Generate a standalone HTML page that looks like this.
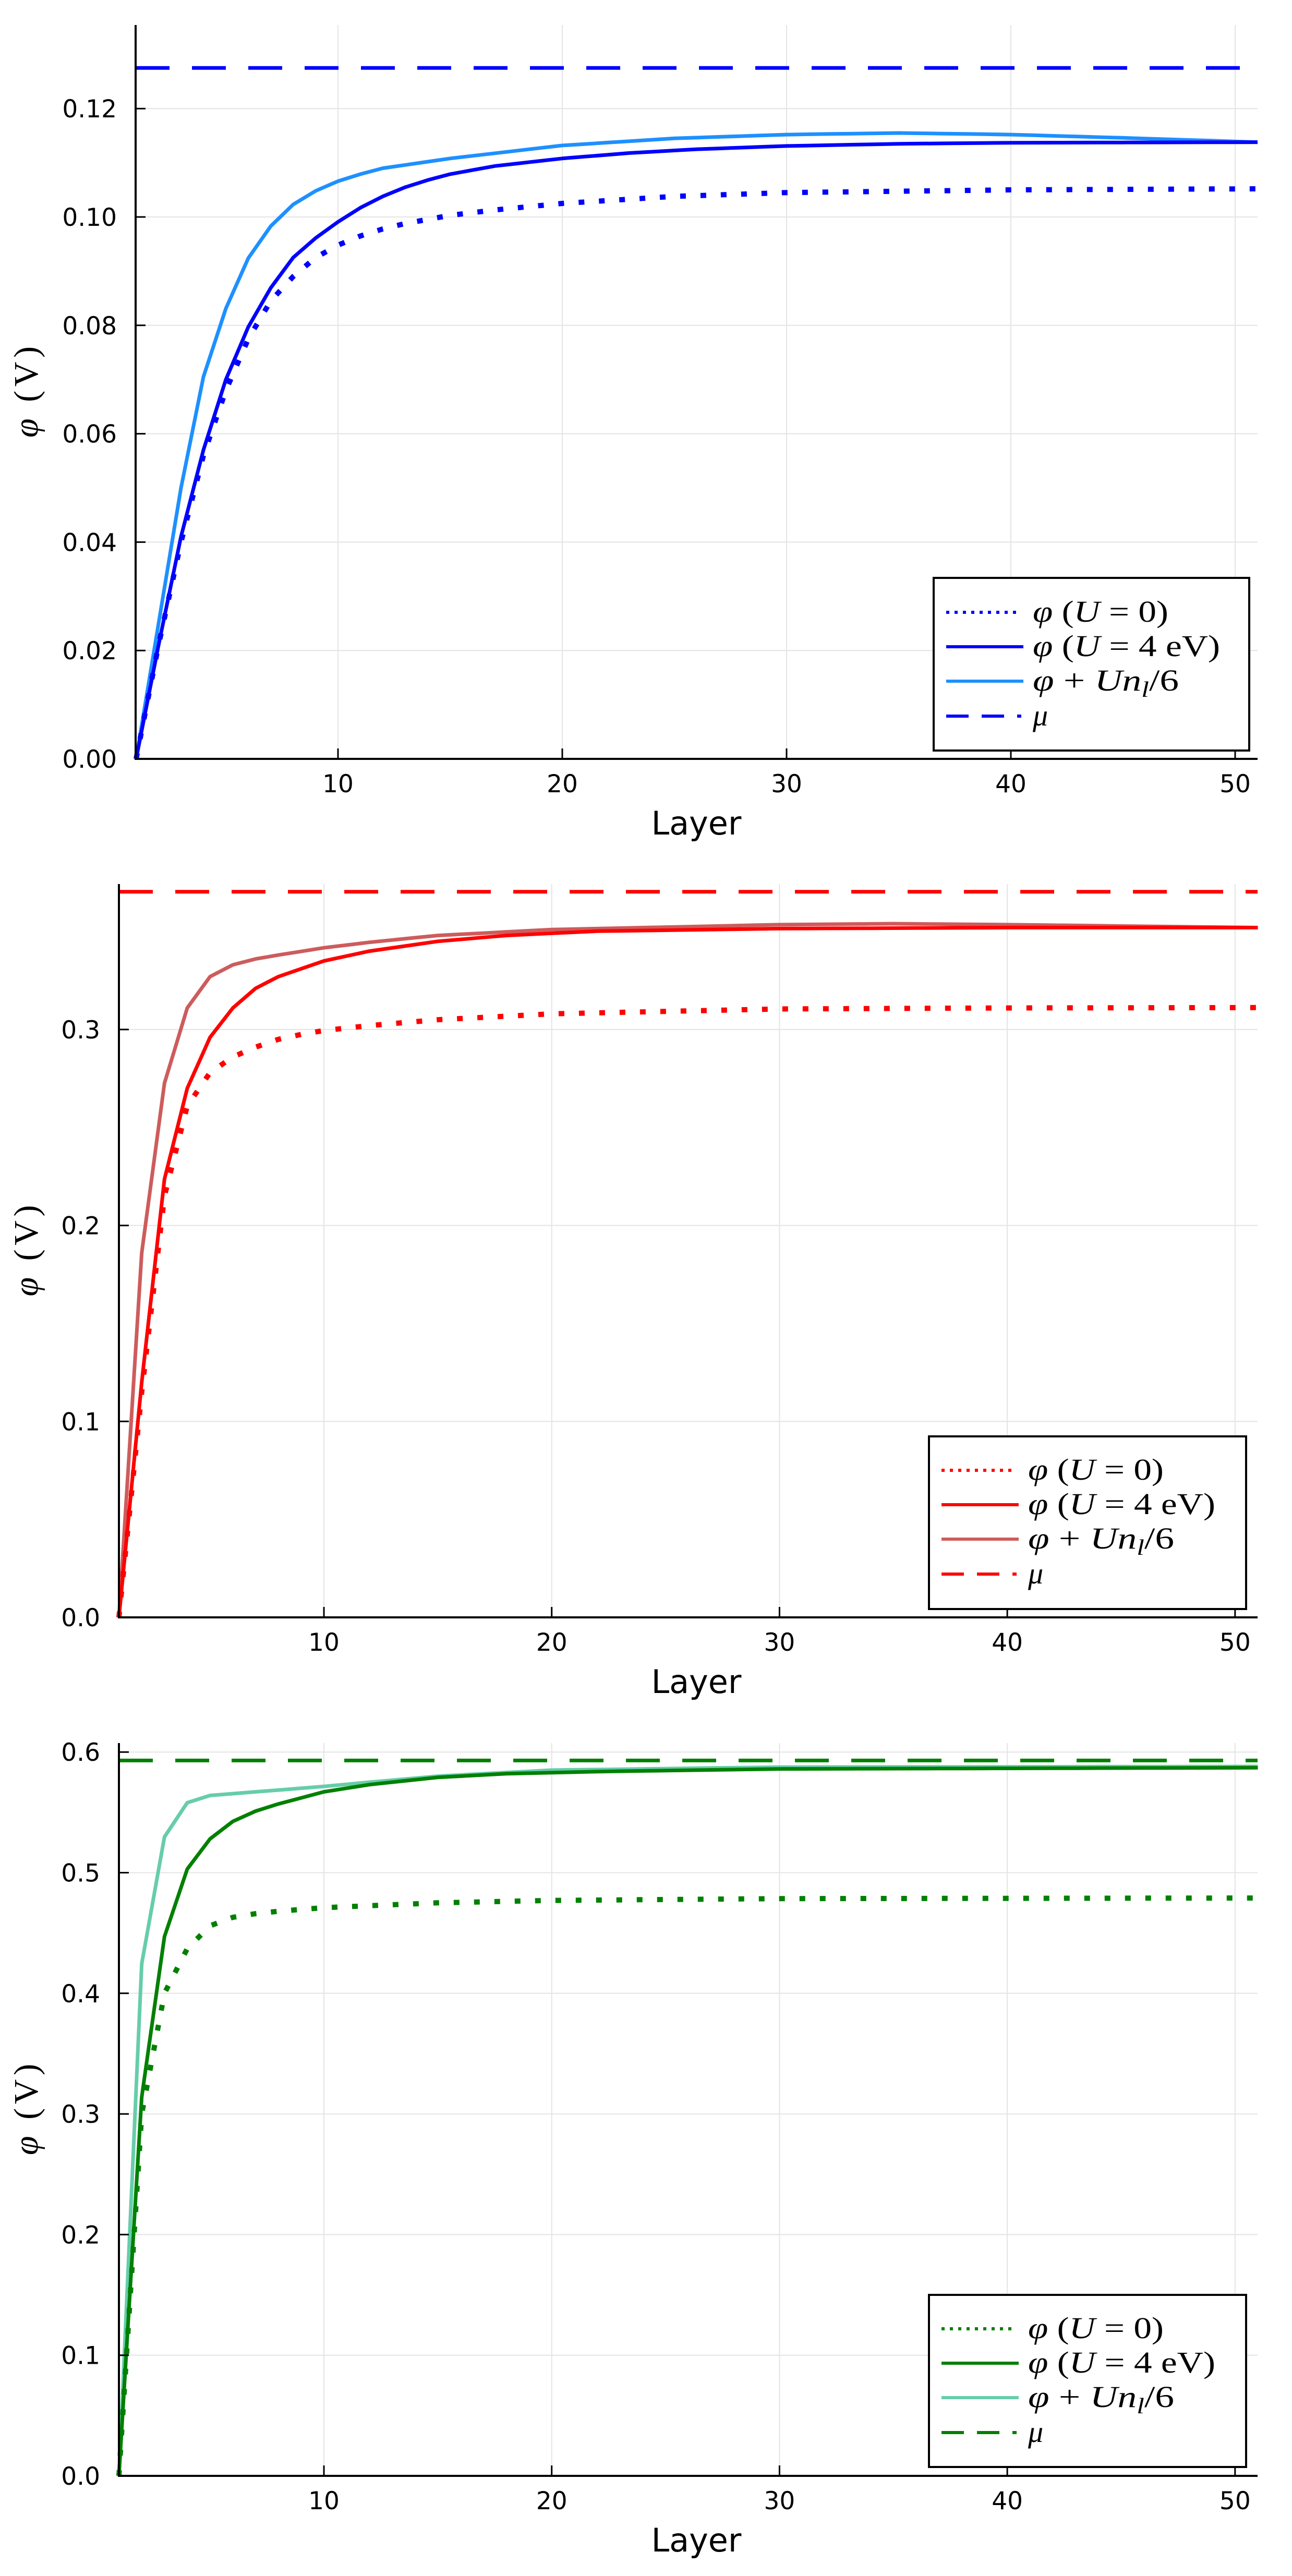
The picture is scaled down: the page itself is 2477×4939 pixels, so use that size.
<!DOCTYPE html>
<html><head><meta charset="utf-8"><style>
html,body{margin:0;padding:0;background:#fff;}
svg{display:block;}
</style></head><body>
<svg id="s" xmlns="http://www.w3.org/2000/svg" width="2477" height="4939" viewBox="0 0 2477 4939"></svg>
<script>
const S=document.getElementById('s');
let h='<rect width="2477" height="4939" fill="#fff"/>';
function interp(a,L){for(let i=0;i<a.length-1;i++){if(L>=a[i][0]&&L<=a[i+1][0]){const t=(L-a[i][0])/(a[i+1][0]-a[i][0]);return a[i][1]+t*(a[i+1][1]-a[i][1]);}}return a[a.length-1][1];}
function panel(c){
  const X=L=>c.l1+(L-1)*c.dx, Y=v=>c.yb-(v-c.ymin)/c.step*c.spx;
  const xr=2411;
  for(const L of [10,20,30,40,50]) h+=`<line x1="${X(L)}" y1="${c.yt}" x2="${X(L)}" y2="${c.yb}" stroke="#e4e4e4" stroke-width="2"/>`;
  c.ticks.forEach(t=>{const y=Y(t);h+=`<line x1="${c.ax}" y1="${y}" x2="${xr}" y2="${y}" stroke="#e4e4e4" stroke-width="2"/>`;});
  const pts=a=>{let p=[];for(let L=1;L<=51;L++)p.push(X(L).toFixed(1)+','+Y(interp(a,L)).toFixed(1));return p.join(' ');};
  h+=`<polyline points="${pts(c.lt)}" fill="none" stroke="${c.c2}" stroke-width="7" stroke-linejoin="round"/>`;
  h+=`<polyline points="${pts(c.u4)}" fill="none" stroke="${c.c1}" stroke-width="7" stroke-linejoin="round"/>`;
  h+=`<polyline points="${pts(c.d0)}" fill="none" stroke="${c.c1}" stroke-width="10" stroke-dasharray="11 28"/>`;
  h+=`<line x1="${c.ax}" y1="${Y(c.mu)}" x2="${xr}" y2="${Y(c.mu)}" stroke="${c.c1}" stroke-width="7" stroke-dasharray="65 43"/>`;
  h+=`<line x1="${c.ax}" y1="${c.yt}" x2="${c.ax}" y2="${c.yb+2}" stroke="#000" stroke-width="4"/>`;
  h+=`<line x1="${c.ax-2}" y1="${c.yb}" x2="${xr}" y2="${c.yb}" stroke="#000" stroke-width="4"/>`;
  c.ticks.forEach((t,i)=>{const y=Y(t);h+=`<line x1="${c.ax}" y1="${y}" x2="${c.ax+19}" y2="${y}" stroke="#000" stroke-width="3"/>`;
    h+=`<text x="${c.ax-36}" y="${y+17}" text-anchor="end" font-family="DejaVu Sans, sans-serif" font-size="47">${c.labels[i]}</text>`;});
  for(const L of [10,20,30,40,50]){h+=`<line x1="${X(L)}" y1="${c.yb}" x2="${X(L)}" y2="${c.yb-20}" stroke="#000" stroke-width="3"/>`;
    h+=`<text x="${X(L)}" y="${c.yb+64}" text-anchor="middle" font-family="DejaVu Sans, sans-serif" font-size="47">${L}</text>`;}
  h+=`<text x="1335" y="${c.yb+145}" text-anchor="middle" font-family="DejaVu Sans, sans-serif" font-size="62">Layer</text>`;
  const cy=(c.yt+c.yb)/2;
  h+=`<text transform="translate(72 ${cy}) rotate(-90)" text-anchor="middle" font-family="Liberation Serif, DejaVu Serif, serif" font-size="66" textLength="175" lengthAdjust="spacing"><tspan font-style="italic">φ</tspan> (V)</text>`;
  const g=c.leg;
  h+=`<rect x="${g.x1}" y="${g.y1}" width="${g.x2-g.x1}" height="${g.y2-g.y1}" fill="#fff" stroke="#000" stroke-width="4"/>`;
  const sx1=g.x1+24, sx2=g.x1+168, tx=g.x1+190;
  const F='font-family="Liberation Serif, DejaVu Serif, serif" font-size="58"';
  g.ys.forEach((y,i)=>{
    if(i==0) h+=`<line x1="${sx1}" y1="${y}" x2="${sx2}" y2="${y}" stroke="${c.c1}" stroke-width="6" stroke-dasharray="6 10"/>`;
    if(i==1) h+=`<line x1="${sx1}" y1="${y}" x2="${sx2+4}" y2="${y}" stroke="${c.c1}" stroke-width="6"/>`;
    if(i==2) h+=`<line x1="${sx1}" y1="${y}" x2="${sx2+4}" y2="${y}" stroke="${c.c2}" stroke-width="6"/>`;
    if(i==3) h+=`<line x1="${sx1}" y1="${y}" x2="${sx2}" y2="${y}" stroke="${c.c1}" stroke-width="6" stroke-dasharray="43 25"/>`;
  });
  const b=18;
  h+=`<text x="${tx}" y="${g.ys[0]+b}" ${F} textLength="260" lengthAdjust="spacingAndGlyphs"><tspan font-style="italic">φ</tspan>  (<tspan font-style="italic">U</tspan> = 0)</text>`;
  h+=`<text x="${tx}" y="${g.ys[1]+b}" ${F} textLength="359" lengthAdjust="spacingAndGlyphs"><tspan font-style="italic">φ</tspan>  (<tspan font-style="italic">U</tspan> = 4 eV)</text>`;
  h+=`<text x="${tx}" y="${g.ys[2]+b}" ${F} font-size="62" textLength="280" lengthAdjust="spacingAndGlyphs"><tspan font-style="italic">φ</tspan> + <tspan font-style="italic">Un</tspan><tspan font-style="italic" font-size="42" dy="12">l</tspan><tspan dy="-12">/6</tspan></text>`;
  h+=`<text x="${tx}" y="${g.ys[3]+b}" ${F} font-style="italic">μ</text>`;
}
panel({ax:260,l1:261,dx:43.0,yb:1455,yt:48,ymin:0,step:0.02,spx:207.8,
 ticks:[0,0.02,0.04,0.06,0.08,0.10,0.12],labels:['0.00','0.02','0.04','0.06','0.08','0.10','0.12'],
 c1:'#0000ff',c2:'#1e90ff',mu:0.1275,
 d0:[[1,0],[2,0.021],[3,0.040],[4,0.056],[5,0.068],[6,0.0775],[7,0.0845],[8,0.089],[9,0.0925],[10,0.0948],[11,0.0965],[12,0.0978],[13,0.0988],[15,0.1003],[17,0.1013],[20,0.1025],[25,0.1038],[30,0.1045],[40,0.105],[51,0.1052]],
 u4:[[1,0],[2,0.021],[3,0.041],[4,0.057],[5,0.07],[6,0.0797],[7,0.0869],[8,0.0925],[9,0.0961],[10,0.0991],[11,0.1017],[12,0.1038],[13,0.1055],[14,0.1068],[15,0.1079],[17,0.1094],[20,0.1108],[23,0.1118],[26,0.1125],[30,0.1131],[35,0.1135],[40,0.1137],[51,0.1138]],
 lt:[[1,0],[2,0.025],[3,0.05],[4,0.0705],[5,0.0831],[6,0.0924],[7,0.0983],[8,0.1023],[9,0.1048],[10,0.1066],[11,0.1079],[12,0.109],[15,0.1108],[20,0.1132],[25,0.1145],[30,0.1152],[35,0.1155],[40,0.1152],[45,0.1146],[51,0.1138]],
 leg:{x1:1790,x2:2395,y1:1108,y2:1439,ys:[1174,1240,1306,1373]}});
panel({ax:228,l1:228,dx:43.67,yb:3101,yt:1695,ymin:0,step:0.1,spx:375.7,
 ticks:[0,0.1,0.2,0.3],labels:['0.0','0.1','0.2','0.3'],
 c1:'#ff0000',c2:'#cd5c5c',mu:0.3703,
 d0:[[1,0],[2,0.115],[3,0.215],[4,0.261],[5,0.278],[6,0.286],[7,0.291],[8,0.295],[9,0.2975],[10,0.2995],[12,0.302],[15,0.305],[20,0.308],[30,0.3105],[40,0.311],[51,0.3112]],
 u4:[[1,0],[2,0.12],[3,0.2236],[4,0.27],[5,0.296],[6,0.311],[7,0.321],[8,0.327],[9,0.331],[10,0.335],[12,0.34],[15,0.345],[18,0.348],[22,0.3502],[30,0.3515],[40,0.352],[51,0.352]],
 lt:[[1,0],[2,0.186],[3,0.2726],[4,0.311],[5,0.327],[6,0.333],[7,0.336],[8,0.338],[10,0.3417],[12,0.3445],[15,0.348],[20,0.351],[30,0.3535],[35,0.354],[40,0.3535],[51,0.352]],
 leg:{x1:1781,x2:2389,y1:2754,y2:3085,ys:[2819,2885,2951,3018]}});
panel({ax:228,l1:228,dx:43.67,yb:4747,yt:3342,ymin:0,step:0.1,spx:231.3,
 ticks:[0,0.1,0.2,0.3,0.4,0.5,0.6],labels:['0.0','0.1','0.2','0.3','0.4','0.5','0.6'],
 c1:'#008000',c2:'#66cdaa',mu:0.593,
 d0:[[1,0],[2,0.30],[3,0.40],[4,0.437],[5,0.456],[6,0.463],[7,0.466],[8,0.468],[10,0.471],[15,0.475],[20,0.477],[30,0.4785],[51,0.479]],
 u4:[[1,0],[2,0.314],[3,0.447],[4,0.503],[5,0.528],[6,0.5425],[7,0.551],[8,0.557],[10,0.567],[12,0.573],[15,0.579],[18,0.582],[22,0.5838],[30,0.586],[51,0.587]],
 lt:[[1,0],[2,0.4245],[3,0.5296],[4,0.558],[5,0.564],[7,0.567],[10,0.5715],[12,0.575],[15,0.58],[20,0.585],[30,0.5875],[51,0.588]],
 leg:{x1:1781,x2:2389,y1:4400,y2:4730,ys:[4465,4531,4597,4664]}});
S.innerHTML=h;
</script>
</body></html>
